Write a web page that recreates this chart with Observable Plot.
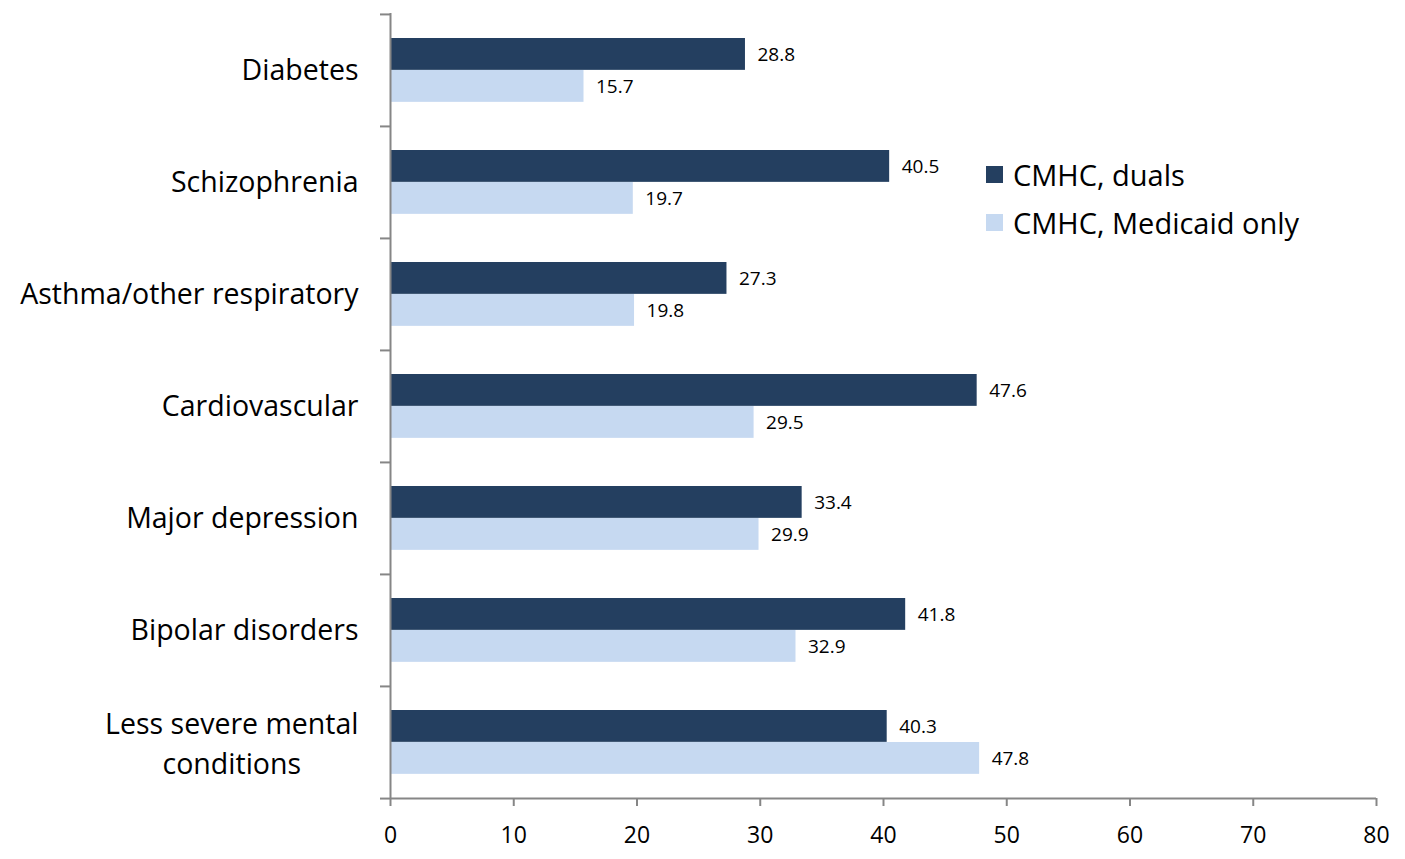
<!DOCTYPE html>
<html>
<head>
<meta charset="utf-8">
<script src="https://cdn.jsdelivr.net/npm/d3@7"></script>
<script src="https://cdn.jsdelivr.net/npm/@observablehq/plot@0.6"></script>
<style>
  html, body { margin: 0; padding: 0; background: #fff; }
  #wrap { position: relative; width: 1405px; height: 859px; font-family: "Open Sans", sans-serif; }
  #legend { position: absolute; left: 986px; top: 154px; font-size: 29px; color: #000; }
  .row { display: flex; align-items: center; height: 40px; margin-bottom: 8px; }
  .sw { width: 17px; height: 17px; margin-right: 10px; }
</style>
</head>
<body>
<div id="wrap"><div id="legend"></div></div>
<script>
const categories = ["Diabetes", "Schizophrenia", "Asthma/other respiratory", "Cardiovascular", "Major depression", "Bipolar disorders", "Less severe mental\nconditions"];
const duals = [28.8, 40.5, 27.3, 47.6, 33.4, 41.8, 40.3];
const medicaidOnly = [15.7, 19.7, 19.8, 29.5, 29.9, 32.9, 47.8];
const seriesNames = ["CMHC, duals", "CMHC, Medicaid only"];
const seriesColors = ["#243F60", "#C6D9F1"];
const xTicks = [0, 10, 20, 30, 40, 50, 60, 70, 80];

const W = 1405, H = 859;
const mT = 13, mB = 61, mL = 390, mR = 29;
const bw = (H - mT - mB) / categories.length;

const rows = [];
categories.forEach((c, i) => {
  rows.push({category: c, series: seriesNames[0], value: duals[i]});
  rows.push({category: c, series: seriesNames[1], value: medicaidOnly[i]});
});
const darkRows = rows.filter(d => d.series === seriesNames[0]);
const lightRows = rows.filter(d => d.series === seriesNames[1]);
const lastCat = categories[categories.length - 1];
const gray = "#868686";
const font = "'Open Sans', sans-serif";
const catSize = 28.5;

const ctx = document.createElement("canvas").getContext("2d");
ctx.font = `${catSize}px 'Open Sans'`;
const lastLines = lastCat.split("\n");
const maxW = Math.max(...lastLines.map(l => ctx.measureText(l).width));

const chart = Plot.plot({
  width: W, height: H,
  marginTop: mT, marginBottom: mB, marginLeft: mL, marginRight: mR,
  style: {fontFamily: font, background: "#fff", color: "#000"},
  x: {domain: [0, 80], axis: null},
  y: {domain: categories, paddingInner: 0, paddingOuter: 0, axis: null},
  marks: [
    Plot.barX(darkRows, {x: "value", y: "category", fill: seriesColors[0], insetTop: 24, insetBottom: bw - 56}),
    Plot.barX(lightRows, {x: "value", y: "category", fill: seriesColors[1], insetTop: 56, insetBottom: bw - 88}),
    Plot.text(darkRows, {x: "value", y: "category", text: d => d.value.toFixed(1), dx: 12, dy: -16, textAnchor: "start", fontSize: 19, fill: "#000"}),
    Plot.text(lightRows, {x: "value", y: "category", text: d => d.value.toFixed(1), dx: 12, dy: 16, textAnchor: "start", fontSize: 19, fill: "#000"}),
    Plot.ruleX([0], {stroke: gray, strokeWidth: 2}),
    Plot.ruleY([lastCat], {x1: 0, x2: 80, dy: bw / 2, stroke: gray, strokeWidth: 2}),
    Plot.axisY({tickSize: 10, tickFormat: () => "", label: null, dy: -bw / 2, stroke: gray, strokeWidth: 2, strokeOpacity: 1}),
    Plot.axisY({ticks: [lastCat], tickSize: 10, tickFormat: () => "", label: null, dy: bw / 2, stroke: gray, strokeWidth: 2, strokeOpacity: 1}),
    Plot.axisY({ticks: categories.slice(0, -1), tickSize: 0, tickPadding: 32, fontSize: catSize, label: null, fill: "#000"}),
    Plot.text([lastCat], {x: 0, y: d => d, text: d => d, textAnchor: "middle", dx: -(32 + maxW / 2), dy: -1, fontSize: catSize, lineHeight: 1.38, fill: "#000"}),
    Plot.axisX({ticks: xTicks, tickSize: 8, tickPadding: 20, fontSize: 23, label: null, stroke: gray, strokeWidth: 2, strokeOpacity: 1, fill: "#000"})
  ]
});
document.getElementById("wrap").prepend(chart);

const legend = document.getElementById("legend");
seriesNames.forEach((s, i) => {
  const r = document.createElement("div");
  r.className = "row";
  r.innerHTML = `<div class="sw" style="background:${seriesColors[i]}"></div><span>${s}</span>`;
  legend.appendChild(r);
});
</script>
</body>
</html>
